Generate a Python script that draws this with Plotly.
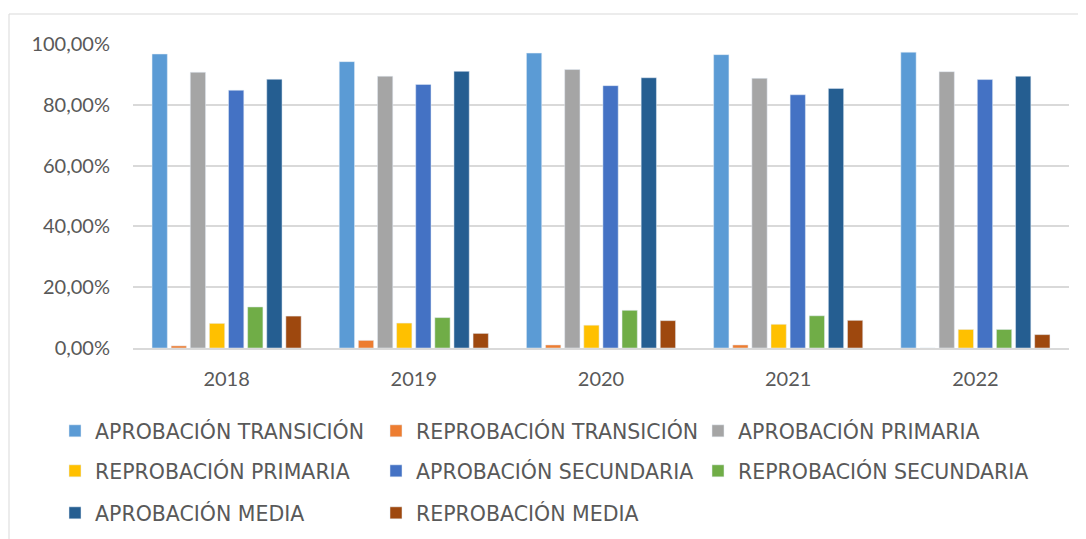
import plotly.graph_objects as go

years = ["2018", "2019", "2020", "2021", "2022"]
series_names = [
    "APROBACIÓN TRANSICIÓN", "REPROBACIÓN TRANSICIÓN", "APROBACIÓN PRIMARIA",
    "REPROBACIÓN PRIMARIA", "APROBACIÓN SECUNDARIA", "REPROBACIÓN SECUNDARIA",
    "APROBACIÓN MEDIA", "REPROBACIÓN MEDIA",
]
aprob_transicion = [0.967, 0.942, 0.970, 0.965, 0.973]
reprob_transicion = [0.007, 0.025, 0.010, 0.010, 0.0]
aprob_primaria = [0.907, 0.894, 0.916, 0.887, 0.909]
reprob_primaria = [0.081, 0.082, 0.075, 0.078, 0.061]
aprob_secundaria = [0.848, 0.867, 0.863, 0.833, 0.883]
reprob_secundaria = [0.135, 0.100, 0.124, 0.106, 0.061]
aprob_media = [0.884, 0.910, 0.889, 0.854, 0.894]
reprob_media = [0.105, 0.048, 0.090, 0.091, 0.044]

series_values = [aprob_transicion, reprob_transicion, aprob_primaria, reprob_primaria,
                 aprob_secundaria, reprob_secundaria, aprob_media, reprob_media]
colors = ["#5B9BD5", "#ED7D31", "#A5A5A5", "#FFC000", "#4472C4", "#70AD47", "#255E91", "#9E480E"]

W, H = 1086, 539
OFF = 8  # page body margin
# plot area in screen coordinates
SL, SR, ST, SB = 133, 1069, 44, 348
L, R, T, B = SL - OFF, SR - OFF, ST - OFF, SB - OFF
pw, ph = R - L, B - T

def px_x(sx):
    return (sx - SL) / pw

def px_y(sy):
    return (SB - sy) / ph

# legend positions (left x, row center y) in screen coordinates
leg_pos = [(55, 431), (376, 431), (698, 431),
           (55, 471), (376, 471), (698, 471),
           (55, 513), (376, 513)]

font_leg = "'DejaVu Sans', sans-serif"
font_tick = "Lato, sans-serif"
fig = go.Figure()
layout_legends = {}
for i, (name, vals, c) in enumerate(zip(series_names, series_values, colors)):
    lname = "legend" if i == 0 else f"legend{i+1}"
    fig.add_trace(go.Bar(x=years, y=vals, name=name, marker_color=c,
                         legend=lname, showlegend=True))
    lx, ly = leg_pos[i]
    layout_legends[lname] = dict(
        x=px_x(lx), y=px_y(ly), xanchor="left", yanchor="middle",
        bgcolor="rgba(0,0,0,0)", borderwidth=0,
        font=dict(family=font_leg, size=20.5, color="#595959"),
    )

fig.update_layout(
    width=W, height=H,
    margin=dict(l=L, r=W - R, t=T, b=H - B, pad=0, autoexpand=False),
    paper_bgcolor="white", plot_bgcolor="white",
    showlegend=True,
    barmode="group", bargap=0.183, bargroupgap=0.2,
    separators=",.",
    font=dict(family=font_tick, color="#595959"),
    **layout_legends,
)
fig.update_yaxes(range=[0, 1], tickvals=[0, 0.2, 0.4, 0.6, 0.8, 1.0], tickformat=".2%",
                 showgrid=True, gridcolor="#D9D9D9", gridwidth=2, zeroline=False,
                 showline=False, ticks="", ticklabelstandoff=22, automargin=False,
                 tickfont=dict(family=font_tick, size=20, color="#595959"))
fig.update_xaxes(showgrid=False, showline=True, linecolor="#D9D9D9", linewidth=2,
                 ticks="", ticklabelstandoff=12, automargin=False,
                 tickfont=dict(family=font_tick, size=20, color="#595959"))

# outer chart frame
fig.add_shape(type="rect", xref="paper", yref="paper",
              x0=px_x(9), x1=px_x(1100), y0=px_y(570), y1=px_y(14),
              line=dict(color="#D9D9D9", width=1), fillcolor="rgba(0,0,0,0)", layer="below")

fig.write_html("out.html")
